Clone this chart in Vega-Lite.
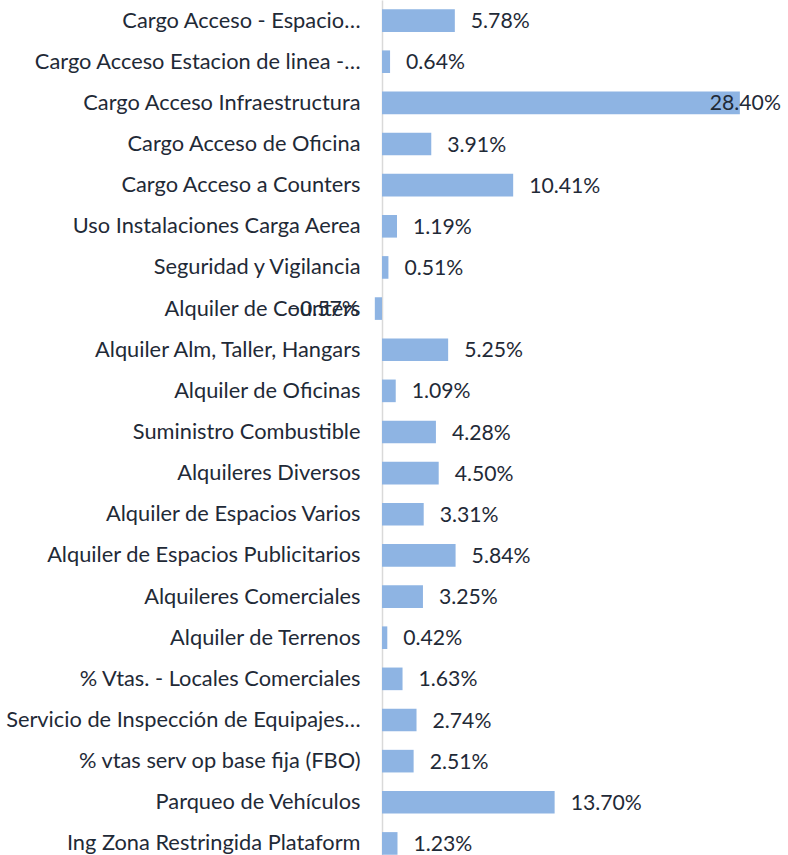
{
  "$schema": "https://vega.github.io/schema/vega-lite/v6.json",
  "autosize": {"type": "none"},
  "width": 406,
  "height": 864,
  "padding": {"left": 382, "top": 0, "right": 0, "bottom": 0},
  "background": "white",
  "config": {"view": {"stroke": null}, "font": "Lato"},
  "data": {
    "values": [
      {"item": "Cargo Acceso - Espacio…", "share": 0.0578},
      {"item": "Cargo Acceso Estacion de linea -…", "share": 0.0064},
      {"item": "Cargo Acceso Infraestructura", "share": 0.2840},
      {"item": "Cargo Acceso de Oficina", "share": 0.0391},
      {"item": "Cargo Acceso a Counters", "share": 0.1041},
      {"item": "Uso Instalaciones Carga Aerea", "share": 0.0119},
      {"item": "Seguridad y Vigilancia", "share": 0.0051},
      {"item": "Alquiler de Counters", "share": -0.0057},
      {"item": "Alquiler Alm, Taller, Hangars", "share": 0.0525},
      {"item": "Alquiler de Oficinas", "share": 0.0109},
      {"item": "Suministro Combustible", "share": 0.0428},
      {"item": "Alquileres Diversos", "share": 0.0450},
      {"item": "Alquiler de Espacios Varios", "share": 0.0331},
      {"item": "Alquiler de Espacios Publicitarios", "share": 0.0584},
      {"item": "Alquileres Comerciales", "share": 0.0325},
      {"item": "Alquiler de Terrenos", "share": 0.0042},
      {"item": "% Vtas. - Locales Comerciales", "share": 0.0163},
      {"item": "Servicio de Inspección de Equipajes…", "share": 0.0274},
      {"item": "% vtas serv op base fija (FBO)", "share": 0.0251},
      {"item": "Parqueo de Vehículos", "share": 0.1370},
      {"item": "Ing Zona Restringida Plataform", "share": 0.0123}
    ]
  },
  "encoding": {
    "y": {
      "field": "item",
      "type": "nominal",
      "sort": null,
      "scale": {"paddingInner": 0.45, "paddingOuter": 0.225},
      "axis": {
        "title": null,
        "ticks": false,
        "labelPadding": 22,
        "labelFontSize": 21.8,
        "labelColor": "#1f2a37",
        "labelLimit": 400,
        "domainColor": "#d9d9d9",
        "domainWidth": 1.5,
        "grid": false
      }
    },
    "x": {
      "field": "share",
      "type": "quantitative",
      "scale": {"domain": [0, 0.3222], "nice": false, "zero": false},
      "axis": null
    }
  },
  "layer": [
    {"mark": {"type": "bar", "color": "#8eb4e3"}, "encoding": {"x2": {"datum": 0}}},
    {
      "transform": [{"filter": "datum.share >= 0 && datum.share < 0.25"}],
      "mark": {"type": "text", "align": "left", "baseline": "middle", "dx": 16, "dy": 1.5, "fontSize": 21.2, "color": "#1f2a37"},
      "encoding": {"text": {"field": "share", "type": "quantitative", "format": ".2%"}}
    },
    {
      "transform": [{"filter": "datum.share >= 0.25"}],
      "mark": {"type": "text", "align": "right", "baseline": "middle", "dx": 41, "dy": 1.5, "fontSize": 21.2, "color": "#1f2a37"},
      "encoding": {"text": {"field": "share", "type": "quantitative", "format": ".2%"}}
    },
    {
      "transform": [{"filter": "datum.share < 0"}],
      "mark": {"type": "text", "align": "right", "baseline": "middle", "dx": -16, "dy": 1.5, "fontSize": 21.2, "color": "#1f2a37"},
      "encoding": {"text": {"field": "share", "type": "quantitative", "format": ".2%"}}
    }
  ]
}
